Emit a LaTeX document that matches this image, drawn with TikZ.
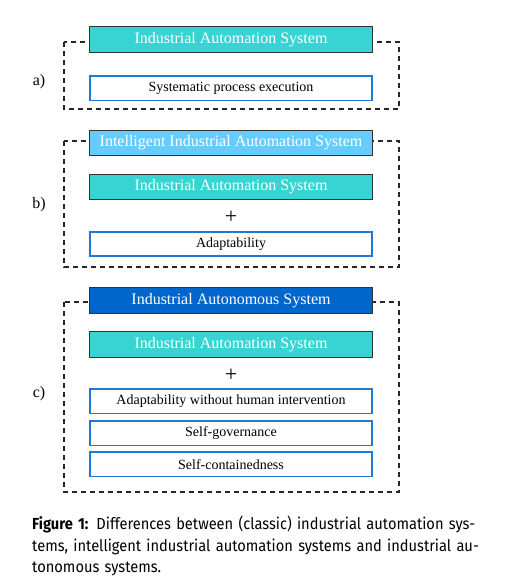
\documentclass[tikz,border=0pt]{standalone}
\usepackage{fontspec}
\setmainfont{Liberation Serif}
\newfontfamily\capfont[FakeStretch=0.915]{Fira Sans}
\usetikzlibrary{calc,positioning}
\usepackage{xcolor}
\newcommand{\mywidth}{284pt}
\newcommand{\myheight}{26pt}
\definecolor{iascol}{RGB}{56,212,212}
\definecolor{iiascol}{RGB}{102,204,255}
\definecolor{autcol}{RGB}{0,102,204}
\definecolor{propcol}{RGB}{31,122,214}
\tikzset{
    framesty/.style={draw=black!85, line width=1.1pt, dash pattern=on 5pt off 4pt},
    syssty/.style={draw=black!80, line width=0.8pt, rectangle, minimum width=\mywidth-0.8pt, minimum height=\myheight-0.8pt, inner sep=0pt, text=white, font=\fontsize{16}{19}\selectfont},
    iassty/.style={syssty, fill=iascol},
    iiassty/.style={syssty, fill=iiascol},
    autsty/.style={syssty, fill=autcol},
    propsty/.style={draw=propcol, line width=1.6pt, fill=white, rectangle, minimum width=\mywidth-1.6pt, minimum height=\myheight-1.6pt, inner sep=0pt, font=\fontsize{14}{17}\selectfont},
    plussty/.style={font=\fontsize{22}{24}\selectfont, inner sep=0pt, yshift=-2pt},
    lblsty/.style={font=\fontsize{16}{19}\selectfont},
    capsty/.style={anchor=north west, inner sep=0pt, text width=475pt, align=left, font=\capfont\fontsize{16}{21.5}\selectfont},
}

\begin{document}
\begin{tikzpicture}[x=1pt, y=1pt]
  \useasboundingbox (0,0) rectangle (512,578);

  % dashed frames
  \draw[framesty] (64,536) rectangle (399,469);
  \draw[framesty] (64,437) rectangle (399,311);
  \draw[framesty] (64,276) rectangle (399,86);

  % a)
  \node[iassty] (A1) at (231,538.5) {Industrial Automation System};
  \node[propsty, below=23pt of A1] (A2) {Systematic process execution};
  \node[lblsty] (la) at (39,496) {a)};

  % b)
  \node[iiassty] (B1) at (231,435) {Intelligent Industrial Automation System};
  \node[iassty, below=18pt of B1] (B2) {Industrial Automation System};
  \node[propsty, below=31pt of B2] (B3) {Adaptability};
  \node[plussty] (Bp) at ($(B2.south)!0.5!(B3.north)$) {+};
  \node[lblsty] (lb) at (39,373) {b)};

  % c)
  \node[autsty] (C1) at (231,277.5) {Industrial Autonomous System};
  \node[iassty, below=18pt of C1] (C2) {Industrial Automation System};
  \node[propsty, below=31pt of C2] (C3) {Adaptability without human intervention};
  \node[propsty, below=6pt of C3] (C4) {Self-governance};
  \node[propsty, below=5pt of C4] (C5) {Self-containedness};
  \node[plussty] (Cp) at ($(C2.south)!0.5!(C3.north)$) {+};
  \node[lblsty] (lc) at (39,184) {c)};

  % caption
  \node[capsty] (cap) at (32,62) {\textbf{Figure 1:} Differences between (classic) industrial automation sys-\\
  tems, intelligent industrial automation systems and industrial au-\\
  tonomous systems.};
\end{tikzpicture}
\end{document}
